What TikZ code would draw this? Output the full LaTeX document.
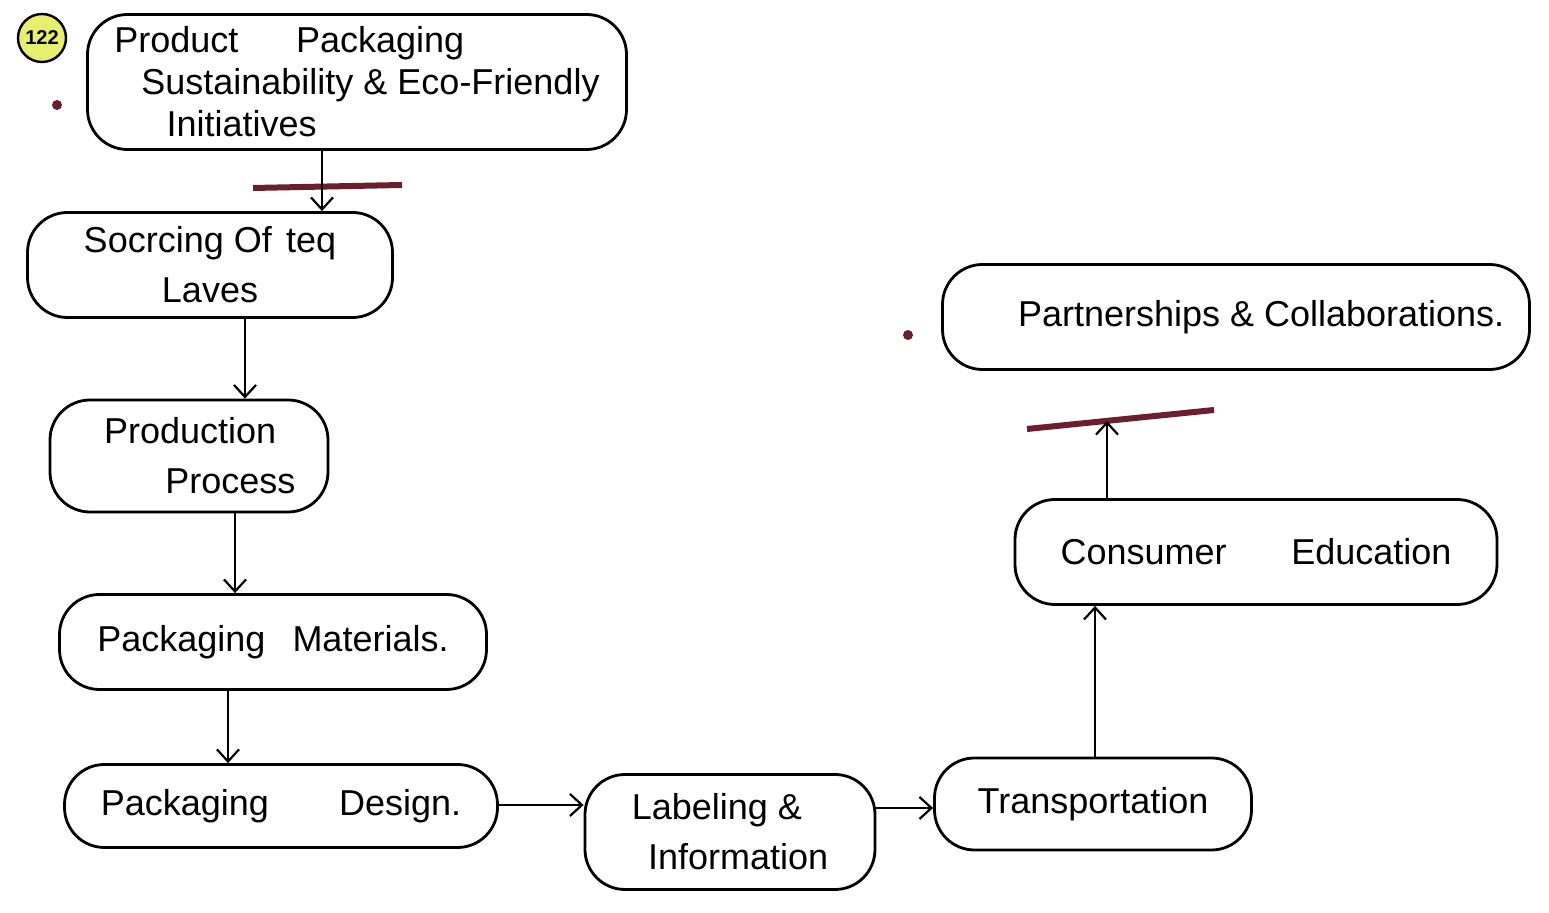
\documentclass[tikz,border=0pt]{standalone}
\usepackage{fontspec}
\setmainfont{Liberation Sans}
\usetikzlibrary{arrows.meta}
\definecolor{barred}{HTML}{6B1F2E}
\definecolor{tagfill}{HTML}{E6F06E}
\tikzset{
  box/.style={draw, line width=1.4pt, rounded corners=20pt, inner sep=2pt, font=\fontsize{18}{25}\selectfont},
  arr/.style={line width=1.1pt, -{Straight Barb[length=6pt,width=11pt,line width=1.1pt]}},
  bar/.style={line width=3pt, draw=barred},
  bullet/.style={circle, fill=barred, inner sep=0pt, minimum size=5pt},
  tag/.style={circle, draw, line width=1.2pt, fill=tagfill, inner sep=0pt, minimum size=24pt, font=\fontsize{10}{12}\selectfont\bfseries}
}
\begin{document}
\begin{tikzpicture}[x=0.5pt,y=-0.5pt]
\useasboundingbox (0,0) rectangle (1549,913);
\fill[white] (0,0) rectangle (1549,913);

\node[tag] (t) at (42,38) {122};
\node[bullet] (d1) at (57,105) {};
\node[bullet] (d2) at (908,335) {};

\node[box, minimum width=269.5pt, minimum height=67.5pt, align=left, font=\fontsize{18}{21}\selectfont] (n1) at (357,82)
  {Product\hspace{1.6em}Packaging\\\hspace{0.75em}Sustainability \& Eco-Friendly\\\hspace{1.45em}Initiatives};
\node[box, minimum width=182.5pt, minimum height=52.5pt, align=center] (n2) at (210,265)
  {Socrcing Of\hspace{0.4em}teq\\Laves};
\node[box, minimum width=139pt, minimum height=56pt, align=left] (n3) at (189,456)
  {\hspace{0.6em}Production\\\hspace{2.3em}Process};
\node[box, minimum width=213.5pt, minimum height=47.5pt] (n4) at (273,642)
  {Packaging\hspace{0.75em}Materials.};
\node[box, minimum width=216.5pt, minimum height=41.5pt] (n5) at (281,806)
  {Packaging\hspace{1.95em}Design.};
\node[box, minimum width=145pt, minimum height=57.5pt, align=left] (n6) at (730,832)
  {Labeling \&\\\hspace{0.45em}Information};
\node[box, minimum width=158.5pt, minimum height=46pt] (n7) at (1093,804)
  {Transportation};
\node[box, minimum width=241pt, minimum height=52.5pt] (n8) at (1256,552)
  {Consumer\hspace{1.8em}Education};
\node[box, minimum width=293.5pt, minimum height=52.5pt] (n9) at (1236,317)
  {\hspace{1.4em}Partnerships \& Collaborations.};

% bars
\coordinate (b1l) at (253,188);
\coordinate (b1r) at (402,185);
\draw[bar] (b1l) -- (b1r);
\coordinate (b2l) at (1027,429);
\coordinate (b2r) at (1214,410);
\draw[bar] (b2l) -- (b2r);

% connectors
\coordinate (x1) at (322,0);
\draw[arr] (n1.south -| x1) -- (n2.north -| x1);
\coordinate (x2) at (245,0);
\draw[arr] (n2.south -| x2) -- (n3.north -| x2);
\coordinate (x3) at (235,0);
\draw[arr] (n3.south -| x3) -- (n4.north -| x3);
\coordinate (x4) at (228,0);
\draw[arr] (n4.south -| x4) -- (n5.north -| x4);
\coordinate (y5) at (0,805);
\draw[arr] (n5.east |- y5) -- (n6.west |- y5);
\coordinate (y6) at (0,808);
\draw[arr] (n6.east |- y6) -- (n7.west |- y6);
\coordinate (x7) at (1095,0);
\draw[arr] (n7.north -| x7) -- (n8.south -| x7);
\coordinate (x8) at (1107,421);
\draw[arr] (n8.north -| x8) -- (x8);
\end{tikzpicture}
\end{document}
